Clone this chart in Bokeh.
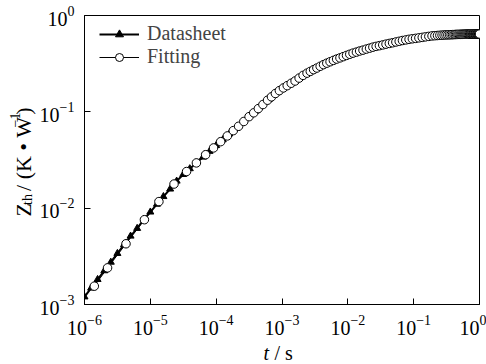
import math
from bokeh.plotting import figure
from bokeh.layouts import column, row
from bokeh.core.properties import value
from bokeh.embed import file_html
from bokeh.resources import INLINE

# Datasheet curve (t in s, Zth in K/W)
t_ds = [1.00e-6, 1.26e-6, 1.58e-6, 2.00e-6, 2.51e-6, 3.16e-6, 3.98e-6, 5.01e-6, 6.31e-6, 7.94e-6,
        1.00e-5, 1.26e-5, 1.58e-5, 2.00e-5, 2.51e-5, 3.16e-5, 3.98e-5, 5.01e-5, 6.31e-5, 7.94e-5,
        1.00e-4, 1.26e-4, 1.58e-4, 2.00e-4, 2.51e-4, 3.16e-4, 3.98e-4, 5.01e-4, 6.31e-4, 7.94e-4,
        1.00e-3, 1.26e-3, 1.58e-3, 2.00e-3, 2.51e-3, 3.16e-3, 3.98e-3, 5.01e-3, 6.31e-3, 7.94e-3,
        1.00e-2, 1.26e-2, 1.58e-2, 2.00e-2, 2.51e-2, 3.16e-2, 3.98e-2, 5.01e-2, 6.31e-2, 7.94e-2,
        1.00e-1, 1.26e-1, 1.58e-1, 2.00e-1, 2.51e-1, 3.16e-1, 3.98e-1, 5.01e-1, 6.31e-1, 7.94e-1,
        1.00]
zth_ds = [1.20e-3, 1.48e-3, 1.82e-3, 2.24e-3, 2.75e-3, 3.39e-3, 4.17e-3, 5.13e-3, 6.17e-3, 7.59e-3,
          9.12e-3, 1.10e-2, 1.32e-2, 1.58e-2, 1.91e-2, 2.24e-2, 2.57e-2, 2.95e-2, 3.39e-2, 3.89e-2,
          4.47e-2, 5.13e-2, 5.89e-2, 6.76e-2, 7.76e-2, 8.91e-2, 0.102, 0.117, 0.135, 0.155,
          0.174, 0.191, 0.209, 0.234, 0.257, 0.279, 0.302, 0.324, 0.347, 0.367,
          0.389, 0.412, 0.431, 0.452, 0.473, 0.490, 0.507, 0.525, 0.543, 0.562,
          0.575, 0.589, 0.603, 0.617, 0.624, 0.631, 0.635, 0.638, 0.640, 0.641,
          0.641]

# Fitting points
t_fit = [1.41e-6, 2.24e-6, 4.27e-6, 8.13e-6, 1.35e-5, 2.29e-5, 3.55e-5, 5.01e-5, 6.92e-5, 9.12e-5,
         1.17e-4, 1.48e-4, 1.82e-4, 2.19e-4, 2.63e-4, 3.16e-4, 3.72e-4, 4.37e-4, 5.13e-4, 6.03e-4,
         6.92e-4, 7.94e-4, 9.12e-4, 1.05e-3, 1.20e-3, 1.38e-3, 1.58e-3, 1.82e-3, 2.09e-3, 2.40e-3,
         2.69e-3, 3.02e-3, 3.39e-3, 3.80e-3, 4.27e-3, 4.79e-3, 5.37e-3, 6.03e-3, 6.76e-3, 7.59e-3,
         8.51e-3, 9.55e-3, 1.07e-2, 1.20e-2, 1.35e-2, 1.51e-2, 1.70e-2, 1.91e-2, 2.14e-2, 2.40e-2,
         2.69e-2, 3.02e-2, 3.39e-2, 3.80e-2, 4.27e-2, 4.79e-2, 5.37e-2, 6.03e-2, 6.76e-2, 7.59e-2,
         8.51e-2, 9.55e-2, 0.107, 0.120, 0.135, 0.151, 0.170,
         0.19, 0.21, 0.23, 0.25, 0.27, 0.29, 0.31, 0.33, 0.35, 0.37,
         0.39, 0.41, 0.43, 0.45, 0.47, 0.49, 0.51, 0.53, 0.55, 0.57,
         0.59, 0.61, 0.63, 0.65, 0.67, 0.69, 0.71, 0.73, 0.75, 0.77,
         0.79, 0.81, 0.83, 0.85, 0.87, 0.89, 0.91, 0.93, 0.95, 0.97,
         0.99, 1.00]
zth_fit = [1.55e-3, 2.40e-3, 4.27e-3, 7.59e-3, 1.17e-2, 1.78e-2, 2.40e-2, 2.95e-2, 3.59e-2, 4.22e-2,
           4.90e-2, 5.62e-2, 6.38e-2, 7.08e-2, 7.94e-2, 8.91e-2, 9.77e-2, 0.108, 0.119, 0.132,
           0.143, 0.155, 0.166, 0.177, 0.187, 0.198, 0.209, 0.224, 0.239, 0.252,
           0.263, 0.274, 0.285, 0.297, 0.309, 0.320, 0.331, 0.342, 0.353, 0.363,
           0.374, 0.385, 0.396, 0.407, 0.417, 0.428, 0.437, 0.448, 0.458, 0.469,
           0.478, 0.486, 0.495, 0.504, 0.513, 0.521, 0.531, 0.540, 0.550, 0.558,
           0.566, 0.573, 0.579, 0.586, 0.593, 0.600, 0.607,
           0.614, 0.617, 0.620, 0.623, 0.625, 0.627, 0.629, 0.630, 0.631, 0.632,
           0.633, 0.634, 0.635, 0.636, 0.636, 0.637, 0.637, 0.638, 0.638, 0.639,
           0.639, 0.639, 0.640, 0.640, 0.640, 0.640, 0.641, 0.641, 0.641, 0.641,
           0.641, 0.641, 0.642, 0.642, 0.642, 0.642, 0.642, 0.642, 0.642, 0.642,
           0.642, 0.642]

series_names = ["Datasheet", "Fitting"]
x_range = (1e-6, 1e0)
y_range = (1e-3, 1e0)

FONT = "Liberation Serif"
W, H = 486, 364
LEFT_W = 36      # strip holding the y-axis title
BOTTOM_H = 26    # strip holding the x-axis title
MAIN_W = W - LEFT_W
MAIN_H = H - BOTTOM_H

p = figure(width=MAIN_W, height=MAIN_H, x_axis_type="log", y_axis_type="log",
           x_range=x_range, y_range=y_range,
           output_backend="svg", toolbar_location=None,
           min_border_left=82 - LEFT_W, min_border_right=7,
           min_border_top=15, min_border_bottom=MAIN_H - 304)
p.background_fill_color = "white"
p.border_fill_color = "white"
p.outline_line_color = "black"
p.outline_line_width = 1
p.xgrid.visible = False
p.ygrid.visible = False

for ax in (p.xaxis[0], p.yaxis[0]):
    ax.axis_line_color = "black"
    ax.major_tick_line_color = "black"
    ax.minor_tick_line_color = None
    ax.major_tick_in = 6
    ax.major_tick_out = 0
    ax.major_label_text_font = FONT
    ax.major_label_text_font_size = "20px"
    ax.major_label_text_color = "black"
    ax.major_label_standoff = 6

# Datasheet
p.line(t_ds, zth_ds, line_color="black", line_width=2, legend_label=series_names[0])
p.scatter(t_ds, zth_ds, marker="triangle", size=7, fill_color="black", line_color="black",
          legend_label=series_names[0])
# Fitting
p.line(t_fit, zth_fit, line_color="black", line_width=1, legend_label=series_names[1])
p.scatter(t_fit, zth_fit, marker="circle", size=8.5, fill_color="white", line_color="black",
          line_width=1, legend_label=series_names[1])

lg = p.legend[0]
lg.location = (15, 236)
lg.label_text_font = FONT
lg.label_text_font_size = "20px"
lg.glyph_width = 40
lg.glyph_height = 20
lg.label_height = 20
lg.spacing = 0
lg.padding = 4
lg.margin = 0
lg.label_standoff = 8
lg.border_line_color = None
lg.background_fill_alpha = 0


def strip(width, height):
    f = figure(width=width, height=height, x_range=(0, width), y_range=(0, height),
               x_axis_type=None, y_axis_type=None, output_backend="svg",
               toolbar_location=None, min_border=0, title=None)
    f.outline_line_color = None
    f.background_fill_color = "white"
    f.border_fill_color = "white"
    f.xgrid.visible = False
    f.ygrid.visible = False
    return f


# y-axis title "Z_th / (K • W^-1)", rotated, reading bottom to top
fy = strip(LEFT_W, MAIN_H)
ang = math.pi / 2
bx = 23
y0 = 103
parts = [
    ("Z", y0, bx, "22px"),
    ("th", y0 + 13.4, bx + 4, "14px"),
    ("/ (K \u2022 W", y0 + 29.8, bx, "22px"),
    ("\u22121", y0 + 104.1, bx - 9, "14px"),
    (")", y0 + 119, bx, "22px"),
]
for txt, yy, xx, fs in parts:
    fy.text(x=[xx], y=[yy], text=[txt], angle=ang, text_font=value(FONT),
            text_font_size=value(fs), text_color="black",
            text_align="left", text_baseline="alphabetic")

# x-axis title "t / s"
fx = strip(W, BOTTOM_H)
fx.text(x=[263], y=[12], text=["t"], text_font=value(FONT), text_font_size=value("20px"),
        text_font_style="italic", text_color="black", text_align="left",
        text_baseline="alphabetic")
fx.text(x=[274], y=[12], text=["/ s"], text_font=value(FONT), text_font_size=value("20px"),
        text_color="black", text_align="left", text_baseline="alphabetic")

layout = column(row(fy, p), fx)
open("out.html", "w").write(file_html(layout, INLINE))
